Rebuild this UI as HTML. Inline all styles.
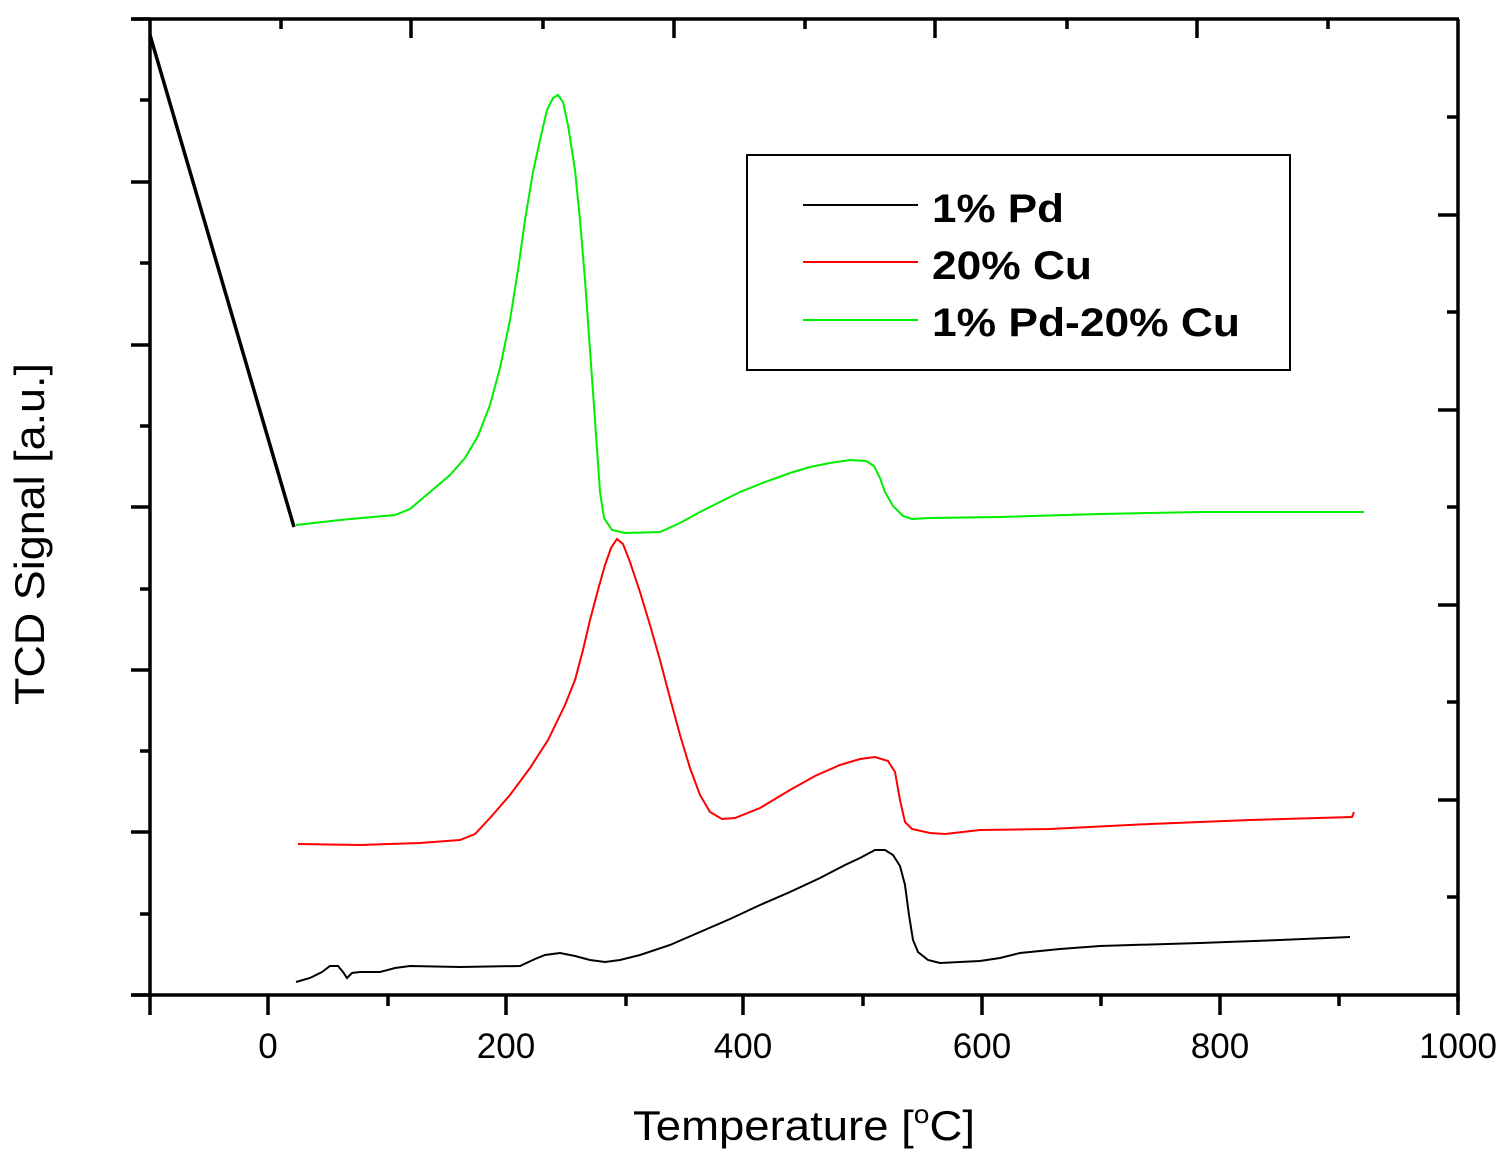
<!DOCTYPE html>
<html><head><meta charset="utf-8"><style>
html,body{margin:0;padding:0;background:#fff}
svg{display:block}
text{font-family:"Liberation Sans",sans-serif}
</style></head><body>
<svg width="1511" height="1162" viewBox="0 0 1511 1162" xmlns="http://www.w3.org/2000/svg">
<g stroke="#000" stroke-width="3.5" fill="none">
<line x1="131" y1="19" x2="1459" y2="19"/>
<line x1="131" y1="995" x2="1459" y2="995"/>
<line x1="150" y1="19" x2="150" y2="1015"/>
<line x1="1458" y1="19" x2="1458" y2="1001"/>
<path d="M131 19H150M131 182H150M131 345H150M131 507H150M131 670H150M131 832H150M131 995H150"/>
<path d="M140 100H150M140 263H150M140 426H150M140 589H150M140 751H150M140 914H150"/>
<path d="M268 995V1015M506 995V1015M743 995V1015M982 995V1015M1220 995V1015M1458 995V1015"/>
<path d="M388 995V1006M626 995V1006M863 995V1006M1101 995V1006M1339 995V1006"/>
<path d="M411 19V38M674 19V38M935 19V38M1197 19V38"/>
<path d="M281 19V29M543 19V29M805 19V29M1067 19V29M1328 19V29"/>
<path d="M1438 215H1458M1438 410H1458M1438 605H1458M1438 800H1458"/>
<path d="M1447 117H1458M1447 312H1458M1447 507H1458M1447 702H1458M1447 897H1458"/>
</g>
<g font-size="35" text-anchor="middle" fill="#000">
<text x="268" y="1058">0</text><text x="506" y="1058">200</text><text x="743" y="1058">400</text>
<text x="982" y="1058">600</text><text x="1220" y="1058">800</text><text x="1458" y="1058">1000</text>
</g>
<text x="633" y="1140" font-size="42" textLength="342" lengthAdjust="spacingAndGlyphs">Temperature [<tspan font-size="26" dy="-17">o</tspan><tspan dy="17">C]</tspan></text>
<text transform="translate(44,534) rotate(-90)" font-size="42" text-anchor="middle" textLength="342" lengthAdjust="spacingAndGlyphs">TCD Signal [a.u.]</text>
<line x1="150" y1="35" x2="294" y2="527" stroke="#000" stroke-width="3.5"/>
<polyline fill="none" stroke="#000" stroke-width="2" points="296,982 310,978 322,972 330,966 338,966 343,972 347,978 352,973 360,972 380,972 395,968 410,966 460,967 520,966 535,959 545,955 560,953 575,956 590,960 605,962 620,960 640,955 670,945 700,932 730,919 760,905 790,892 820,878 845,865 860,858 875,850 885,850 893,855 900,866 905,885 909,915 913,940 918,952 928,960 940,963 980,961 1000,958 1020,953 1060,949 1100,946 1200,943 1280,940 1350,937"/>
<polyline fill="none" stroke="#ff0000" stroke-width="2" points="298,844 360,845 420,843 460,840 475,834 490,818 510,795 530,768 548,740 565,705 575,680 583,650 590,620 598,590 605,565 611,548 617,539 623,544 630,562 640,592 650,625 660,660 670,698 680,735 690,768 700,795 710,812 722,819 735,818 760,808 790,790 815,776 840,765 860,759 875,757 888,761 895,772 900,800 905,822 912,829 930,833 945,834 980,830 1050,829 1150,824 1250,820 1352,817 1354,812"/>
<polyline fill="none" stroke="#00ee00" stroke-width="2" points="296,525 340,520 395,515 410,509 430,492 450,475 465,458 478,436 490,405 500,368 510,320 518,270 525,220 533,172 540,140 547,110 553,98 558,95 563,102 568,125 575,170 580,220 585,280 590,350 595,420 600,492 604,518 612,530 625,533 660,532 680,523 700,512 720,502 740,492 765,482 790,473 810,467 830,463 850,460 866,461 874,466 880,478 885,492 893,506 903,516 912,519 930,518 1000,517 1100,514 1200,512 1364,512"/>
<rect x="747" y="155" width="543" height="215" fill="#fff" stroke="#000" stroke-width="2"/>
<line x1="803" y1="205" x2="918" y2="205" stroke="#000" stroke-width="2"/>
<line x1="803" y1="262" x2="918" y2="262" stroke="#ff0000" stroke-width="2"/>
<line x1="803" y1="320" x2="918" y2="320" stroke="#00ee00" stroke-width="2"/>
<g font-size="40" font-weight="bold">
<text x="932" y="222" textLength="132" lengthAdjust="spacingAndGlyphs">1% Pd</text>
<text x="932" y="279" textLength="160" lengthAdjust="spacingAndGlyphs">20% Cu</text>
<text x="932" y="336" textLength="308" lengthAdjust="spacingAndGlyphs">1% Pd-20% Cu</text>
</g>
</svg>
</body></html>
